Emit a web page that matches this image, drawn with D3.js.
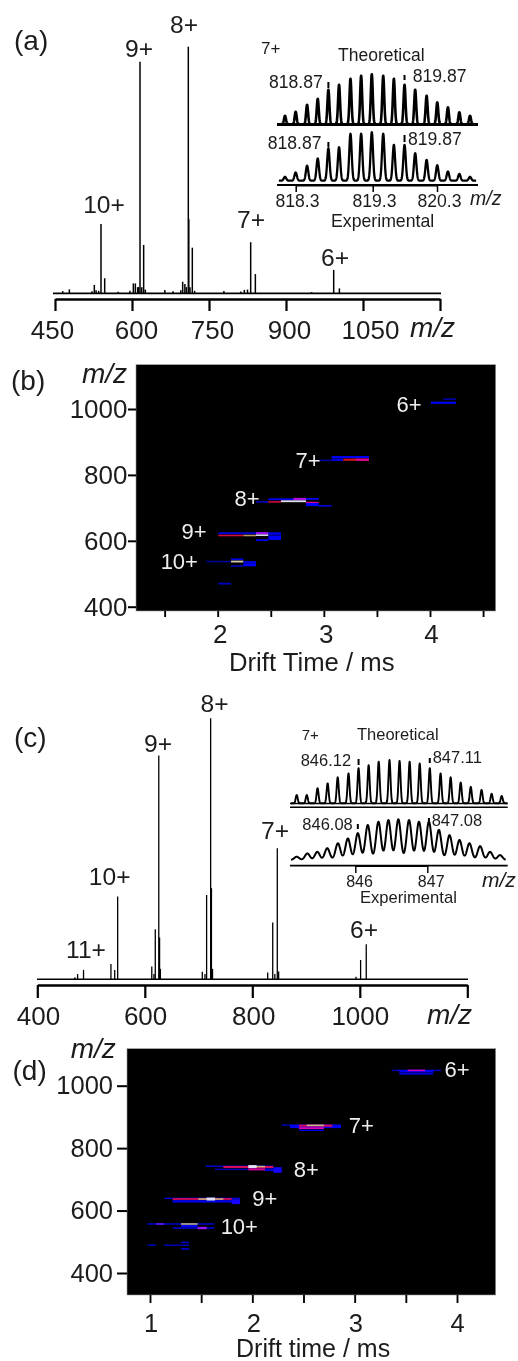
<!DOCTYPE html>
<html>
<head>
<meta charset="utf-8">
<script src="https://cdnjs.cloudflare.com/ajax/libs/d3/7.8.5/d3.min.js"></script>
<style>
html,body{margin:0;padding:0;background:#fff;}
svg{display:block;filter:blur(0.4px);}
text{font-family:"Liberation Sans",Arial,sans-serif;fill:#1c1c1c;}
</style>
</head>
<body>
<script>
// ---------- Panel (a): mass spectrum ----------
const aMz = [465,478,522,526.6,530,535,539.6,546.8,573,596,602.6,606.5,611,613,615.6,619,622.7,626,664,680,695,698.7,703,706,709.7,710.6,713,717.5,722,779,812,818.8,825,831.2,840.3,950,992.9,1004];
const aInt = [0.9,1.6,0.8,3.4,1.2,1,28.1,6.1,0.6,1,4,4,2.5,2.5,93.9,2.5,19.6,1.5,1.3,0.8,1.2,4.7,3.8,2.5,100,30,2.5,18.5,1,0.9,0.7,1.4,1.5,20.7,7.8,0.5,9.5,2];
const aTicks = [450,600,750,900,1050,1200];
// ---------- Panel (a) inset ----------
const aIsoMz = [818.30,818.44,818.59,818.73,818.87,819.01,819.16,819.30,819.44,819.59,819.73,819.87,820.01,820.16,820.30,820.44,820.59,820.73];
const aTheo = [17,25,39,51,69,79,91,97,100,97,91,79,69,57,44,34,24,17];
const aExp = [8,17,31,46,67,69,97,97,100,97,74,74,57,43,32,19,14,8];
const aInsetTicks = [818.3,819.3,820.3];
const aMarks = [818.87,819.87];
// ---------- Panel (b): drift plot; t0, t1, m/z, m/z span, intensity ----------
const bCells = [
 [4.009,4.244,1019,5,0.42],[4.125,4.244,1030,3,0.25],
 [2.951,3.073,844,2,0.2],[3.073,3.425,854,5,0.4],[3.073,3.183,846,6,0.33],[3.183,3.425,846,5,0.78],[3.304,3.425,846,5,0.7],
 [2.477,2.832,726,4,0.4],[2.712,2.832,727,5,0.6],[2.832,2.951,727,4,0.4],[2.361,2.477,718,3,0.3],[2.477,2.596,718,3,0.76],[2.596,2.832,720,4,1],[2.832,2.951,716,3,0.7],[2.832,2.951,710,8,0.42],[2.951,3.073,706,3,0.38],
 [2.006,2.477,623,5,0.3],[2.361,2.477,623,5,0.58],[2.477,2.596,622,6,0.38],[2.006,2.242,616,3,0.76],[2.242,2.361,616,3,0.88],[2.361,2.477,617,3,1],[2.477,2.596,609.5,12,0.42],[2.361,2.477,602,4,0.38],
 [1.89,2.126,537,3,0.2],[2.126,2.242,544,4,0.35],[2.126,2.242,537,4,0.95],[2.242,2.361,535,5,0.38],[2.126,2.242,523.5,3,0.3],[2.242,2.361,527,7,0.42],
 [2.006,2.126,470,4,0.28]
];
const bXTicks = [1.5,2,2.5,3,3.5,4,4.5];
const bYTicks = [400,600,800,1000];
// ---------- Panel (c): mass spectrum ----------
const cMz = [470,475,486,537,544,549.5,613,617,619.5,626,627.5,629,707,712,715,722.5,724,726,828.6,838,842,846.5,849,993,1001.5,1012];
const cInt = [0.8,2,3.6,5.9,3.6,31.7,4.9,2,19.2,85.7,16,4,2.9,2,32.3,100,34.9,4,2.6,21.8,2,50.2,3,1,7.4,13.4];
const cTicks = [400,600,800,1000,1200];
// ---------- Panel (c) inset ----------
const cTheoMz = [845.26,845.40,845.55,845.69,845.83,845.98,846.12,846.26,846.40,846.55,846.69,846.83,846.97,847.11,847.26,847.40,847.54,847.68,847.83,847.97,848.11];
const cTheo = [19,19,35,46,60,69,81,88,96,100,98,96,92,81,69,60,48,38,31,22,17];
const cExpMz = [845.22,845.37,845.51,845.65,845.80,845.94,846.08,846.22,846.37,846.51,846.65,846.80,846.94,847.08,847.22,847.37,847.51,847.65,847.80,847.94,848.08];
const cExp = [8,16,20,29,41,53,66,86,94,98,100,98,94,94,74,61,49,41,34,20,12];
const cInsetTicks = [846,847];
const cTheoMarks = [846.12,847.11];
const cExpMarks = [846.08,847.08];
// ---------- Panel (d): drift plot ----------
const dCells = [
 [3.362,3.844,1049,2,0.25],[3.436,3.769,1046,6,0.4],[3.436,3.769,1038,2,0.4],[3.518,3.687,1049,3,0.68],
 [2.287,2.866,874,2,0.25],[2.368,2.866,869,8,0.4],[2.456,2.782,872,5,0.74],[2.531,2.7,873,3,0.92],[2.456,2.7,864,4,0.68],[2.456,2.7,857,2,0.35],
 [1.547,2.205,742,2,0.3],[1.717,2.205,739.5,5,0.74],[2.124,2.205,732,4,0.4],[2.124,2.205,730,5,0.42],[1.635,2.205,732,2,0.25],[1.961,2.124,732,5,0.7],[1.961,2.124,741,3,0.92],[2.205,2.287,730,16,0.44],[1.961,2.042,741,8,1],
 [1.14,1.879,639,2,0.3],[1.221,1.798,637,4,0.74],[1.221,1.879,629.5,6,0.38],[1.472,1.717,637,3,0.92],[1.554,1.635,637,8,1],[1.798,1.879,628.5,14,0.44],
 [0.974,1.629,557,2,0.3],[1.059,1.14,557,2,0.52],[1.303,1.466,557,3,0.92],[1.303,1.466,550.5,5,0.38],[1.221,1.629,544,3,0.35],[1.466,1.554,544,6,0.56],
 [0.974,1.059,489,2,0.25],[1.14,1.381,489,2,0.25],[1.303,1.381,498,3,0.3],[1.303,1.381,477,3,0.36]
];
const dXTicks = [1,1.5,2,2.5,3,3.5,4];
const dYTicks = [400,600,800,1000];

const heatColor = d3.scaleLinear()
  .domain([0.15,0.42,0.55,0.68,0.78,0.9,1])
  .range(["#00008c","#0000ff","#9018ff","#e000b0","#d8101c","#c0b068","#e4e0f4"]);

const svg = d3.select("body").append("svg").attr("width",518).attr("height",1361);

function label(txt,x,y,size,opt={}){
  const t = svg.append("text").attr("x",x).attr("y",y).attr("font-size",size)
    .attr("text-anchor",opt.anchor||"start").text(txt);
  if(opt.italic) t.attr("font-style","italic");
  if(opt.fill) t.style("fill",opt.fill);
  return t;
}
function hline(x0,x1,y,w){
  svg.append("line").attr("x1",x0).attr("x2",x1).attr("y1",y).attr("y2",y)
    .attr("stroke","#000").attr("stroke-width",w);
}
function bottomAxis(scale,ticks,y,tickLen,baseline,font,width,fmt,dxs){
  const pad = baseline-y-tickLen-0.71*font;
  const g = svg.append("g").attr("transform",`translate(0,${y})`)
    .call(d3.axisBottom(scale).tickValues(ticks).tickSize(tickLen).tickSizeOuter(0).tickPadding(pad).tickFormat(fmt));
  g.selectAll("path").attr("stroke","#000").attr("stroke-width",width);
  g.selectAll("line").attr("stroke","#000").attr("stroke-width",width*0.85);
  g.selectAll("text").attr("font-size",font).attr("font-family",null).attr("dx",(d,i)=>dxs?dxs[i]:0);
  g.attr("font-family",null);
  return g;
}
function spectrum(mz,ints,x,y,w){
  svg.append("g").selectAll("line").data(mz).join("line")
    .attr("x1",d=>x(d)).attr("x2",d=>x(d))
    .attr("y1",y(0)).attr("y2",(d,i)=>y(ints[i]))
    .attr("stroke","#000").attr("stroke-width",w);
}
function profile(mz,ints,x,y,sigma,w){
  const lo=x.domain()[0]-0.08, hi=x.domain()[1]+0.08;
  const pts=d3.range(lo,hi,0.002).map(m=>[m,d3.sum(mz,(c,i)=>ints[i]*Math.exp(-((m-c)*(m-c))/(2*sigma*sigma)))]);
  svg.append("path").attr("d",d3.line().x(d=>x(d[0])).y(d=>y(d[1]))(pts))
    .attr("fill","none").attr("stroke","#000").attr("stroke-width",w).attr("stroke-linejoin","round");
}
function marks(vals,x,ranges){
  svg.append("g").selectAll("line").data(vals).join("line")
    .attr("x1",d=>x(d)).attr("x2",d=>x(d))
    .attr("y1",(d,i)=>ranges[i][0]).attr("y2",(d,i)=>ranges[i][1])
    .attr("stroke","#000").attr("stroke-width",2);
}
function heat(cells,xTicks,yTicks,box,x,y,o){
  svg.append("rect").attr("x",box[0]).attr("y",box[1]).attr("width",box[2]-box[0]).attr("height",box[3]-box[1])
    .attr("fill","#000").attr("stroke","#999").attr("stroke-width",0.6);
  const hgt=d=>Math.max(1.5,Math.abs(y(d[2]-d[3]/2)-y(d[2]+d[3]/2))+0.5);
  svg.append("g").selectAll("rect").data(cells).join("rect")
    .attr("x",d=>x(d[0])).attr("width",d=>x(d[1])-x(d[0]))
    .attr("y",d=>y(d[2])-hgt(d)/2).attr("height",hgt)
    .attr("fill",d=>heatColor(d[4]));
  const gy = svg.append("g").attr("transform",`translate(${box[0]},0)`)
    .call(d3.axisLeft(y).tickValues(yTicks).tickSize(o.yTick).tickPadding(o.yPad).tickFormat(d3.format("d")));
  gy.select(".domain").remove();
  gy.selectAll("line").attr("stroke","#000").attr("stroke-width",2);
  gy.selectAll("text").attr("font-size",o.font).attr("font-family",null);
  gy.attr("font-family",null);
  const gx = bottomAxis(x,xTicks,box[3],o.xTick,o.xBase,o.font,2.2,d=>Number.isInteger(d)?d:"",o.xDx);
  gx.select(".domain").remove();
}

// ===== Panel (a) =====
const ax = d3.scaleLinear().domain([450,1200]).range([55,440]);
const ay = d3.scaleLinear().domain([0,100]).range([293.3,46.7]);
label("(a)",14,50,28);
spectrum(aMz,aInt,ax,ay,1.5);
hline(53,441,293.3,1.8);
bottomAxis(ax,aTicks,299,12,339,26,2.6,d=>d===1200?"":d,[-3,4,3,3,7,0]);
label("10+",104,213,24.6,{anchor:"middle"});
label("9+",139,56.7,24.6,{anchor:"middle"});
label("8+",184,33,24.6,{anchor:"middle"});
label("7+",251,228,24.6,{anchor:"middle"});
label("6+",335,266,24.6,{anchor:"middle"});
label("m/z",410,337,28,{italic:true});
// inset (a)
const aix = d3.scaleLinear().domain([818.30,820.73]).range([285,470]);
const aTy = d3.scaleLinear().domain([0,100]).range([124.3,74.3]);
const aEy = d3.scaleLinear().domain([0,100]).range([180.7,132.3]);
const aTickX = d3.scaleLinear().domain(aInsetTicks).range([295.7,372.7,437]);
profile(aIsoMz,aTheo,aix,aTy,0.013,2.6);
hline(277,478,124.6,3);
profile(aIsoMz,aExp,aix,aEy,0.016,2.3);
bottomAxis(aTickX,aInsetTicks,185,7,207.3,17.6,1.8,d3.format(".1f"),[1.3,1.3,2]);
hline(277,478,185,1.8);
marks(aMarks,aix,[[82,88],[75,80]]);
marks(aMarks,aix,[[142,147],[135,142]]);
label("7+",261,54,17);
label("Theoretical",338,61,17.5);
label("818.87",269,87.7,17.6);
label("819.87",412.7,81.7,17.6);
label("818.87",267.7,149.3,17.6);
label("819.87",408,145,17.6);
label("m/z",470,205,19.5,{italic:true});
label("Experimental",331,226.7,17.7);

// ===== Panel (b) =====
const bx = d3.scaleLinear().domain([2,4]).range([217.7,430]);
const by = d3.scaleLinear().domain([400,1000]).range([606.7,409]);
heat(bCells,bXTicks,bYTicks,[136,364.7,495.7,611],bx,by,{yTick:8,yPad:0.5,xTick:6,xBase:642.7,font:26,xDx:[0,2,0,2,0,1,0]});
label("(b)",11,390,28);
label("m/z",82,383,28,{italic:true});
label("Drift Time / ms",229,670.7,25.7);
const wht={anchor:"middle",fill:"#eeeeee"};
label("6+",409,411.7,22,wht);
label("7+",308,468.3,22,wht);
label("8+",247,505.7,22,wht);
label("9+",194,539,22,wht);
label("10+",179.3,569.3,22,wht);

// ===== Panel (c) =====
const cx = d3.scaleLinear().domain([400,1200]).range([37.3,467.3]);
const cy = d3.scaleLinear().domain([0,100]).range([979.3,718.3]);
label("(c)",14,746.7,28);
spectrum(cMz,cInt,cx,cy,1.3);
hline(37,468,979.3,1.5);
bottomAxis(cx,cTicks,985,13,1025,26,2.6,d=>d===1200?"":d,[0.7,0.3,1,0,0]);
label("11+",86,958.3,24.6,{anchor:"middle"});
label("10+",109.7,885,24.6,{anchor:"middle"});
label("9+",158,751.7,24.6,{anchor:"middle"});
label("8+",214.5,711.7,24.6,{anchor:"middle"});
label("7+",275,839.3,24.6,{anchor:"middle"});
label("6+",364,938.3,24.6,{anchor:"middle"});
label("m/z",427,1024,28,{italic:true});
// inset (c)
const ctx = d3.scaleLinear().domain([845.26,848.11]).range([296.7,501.7]);
const cex = d3.scaleLinear().domain([845.22,848.08]).range([296.7,500]);
const cTy = d3.scaleLinear().domain([0,100]).range([803.3,760]);
const cEy = d3.scaleLinear().domain([0,100]).range([860,819.3]);
const cTickX = d3.scaleLinear().domain(cInsetTicks).range([355.3,427.3]);
profile(cTheoMz,cTheo,ctx,cTy,0.014,1.9);
hline(290,507.7,803.6,1.5);
hline(290,507.7,807.3,1.6);
profile(cExpMz,cExp,cex,cEy,0.034,2);
bottomAxis(cTickX,cInsetTicks,865.7,7.3,887,16,1.7,d3.format("d"),[3.7,3.4]);
hline(290,507.7,865.7,1.7);
marks(cTheoMarks,ctx,[[759,765],[758,763]]);
marks(cExpMarks,cex,[[824,829],[818,825]]);
label("7+",301.7,740,15);
label("Theoretical",357,740,16.5);
label("846.12",300.7,765.7,16.5);
label("847.11",432.7,763.3,16.5);
label("846.08",302.3,830,16.5);
label("847.08",431.7,826,16.5);
label("m/z",482,887.3,21,{italic:true});
label("Experimental",360,902.7,16.6);

// ===== Panel (d) =====
const dx = d3.scaleLinear().domain([1,4]).range([150,457]);
const dy = d3.scaleLinear().domain([400,1000]).range([1273,1085.7]);
heat(dCells,dXTicks,dYTicks,[127,1048.7,495.7,1295],dx,dy,{yTick:10,yPad:4,xTick:8,xBase:1331.7,font:25.5,xDx:[0.7,0,1,0,0.7,0,0]});
label("(d)",12.5,1080,28);
label("m/z",70.7,1058.3,28,{italic:true});
label("Drift time / ms",236,1357.3,25);
label("6+",457,1076.7,22,wht);
label("7+",361.3,1133.3,22,wht);
label("8+",306.3,1176.7,22,wht);
label("9+",264.7,1206,22,wht);
label("10+",239.3,1234.3,22,wht);
</script>
</body>
</html>
